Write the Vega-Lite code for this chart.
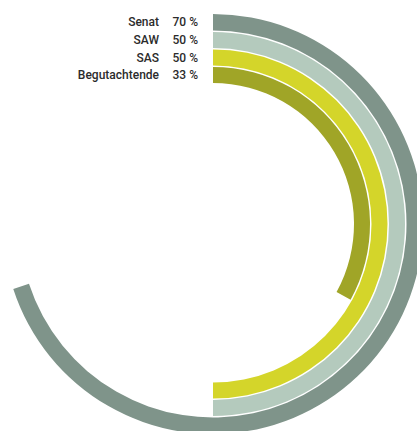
{
  "$schema": "https://vega.github.io/schema/vega-lite/v6.json",
  "width": 426,
  "height": 448,
  "padding": 0,
  "autosize": "none",
  "background": "white",
  "config": {"view": {"stroke": null}, "text": {"font": "Roboto", "fontWeight": 500, "fontSize": 12, "color": "#2b2b2b", "baseline": "middle", "align": "right", "theta": 0}},
  "data": {"values": [
    {"name": "Senat", "value": 70},
    {"name": "SAW", "value": 50},
    {"name": "SAS", "value": 50},
    {"name": "Begutachtende", "value": 33}
  ]},
  "transform": [{"calculate": "datum.value + ' %'", "as": "label"}],
  "layer": [
    {"transform": [{"filter": "datum.name === 'Senat'"}],
     "layer": [
       {"mark": {"type": "arc", "radius": 210, "radius2": 193.5, "color": "#7f948a"},
        "encoding": {"theta": {"field": "value", "type": "quantitative", "scale": {"domain": [0, 100], "range": [0, 6.283185307]}, "stack": true}}},
       {"mark": {"type": "text", "radius": 202, "dx": -54}, "encoding": {"text": {"field": "name"}}},
       {"mark": {"type": "text", "radius": 202, "dx": -15}, "encoding": {"text": {"field": "label"}}}
     ]},
    {"transform": [{"filter": "datum.name === 'SAW'"}],
     "layer": [
       {"mark": {"type": "arc", "radius": 192, "radius2": 176, "color": "#b4cabd"},
        "encoding": {"theta": {"field": "value", "type": "quantitative", "scale": {"domain": [0, 100], "range": [0, 6.283185307]}, "stack": true}}},
       {"mark": {"type": "text", "radius": 184, "dx": -54}, "encoding": {"text": {"field": "name"}}},
       {"mark": {"type": "text", "radius": 184, "dx": -15}, "encoding": {"text": {"field": "label"}}}
     ]},
    {"transform": [{"filter": "datum.name === 'SAS'"}],
     "layer": [
       {"mark": {"type": "arc", "radius": 174.5, "radius2": 158.5, "color": "#d4d52a"},
        "encoding": {"theta": {"field": "value", "type": "quantitative", "scale": {"domain": [0, 100], "range": [0, 6.283185307]}, "stack": true}}},
       {"mark": {"type": "text", "radius": 166.5, "dx": -54}, "encoding": {"text": {"field": "name"}}},
       {"mark": {"type": "text", "radius": 166.5, "dx": -15}, "encoding": {"text": {"field": "label"}}}
     ]},
    {"transform": [{"filter": "datum.name === 'Begutachtende'"}],
     "layer": [
       {"mark": {"type": "arc", "radius": 157, "radius2": 141, "color": "#a0a527"},
        "encoding": {"theta": {"field": "value", "type": "quantitative", "scale": {"domain": [0, 100], "range": [0, 6.283185307]}, "stack": true}}},
       {"mark": {"type": "text", "radius": 149, "dx": -54}, "encoding": {"text": {"field": "name"}}},
       {"mark": {"type": "text", "radius": 149, "dx": -15}, "encoding": {"text": {"field": "label"}}}
     ]}
  ]
}
